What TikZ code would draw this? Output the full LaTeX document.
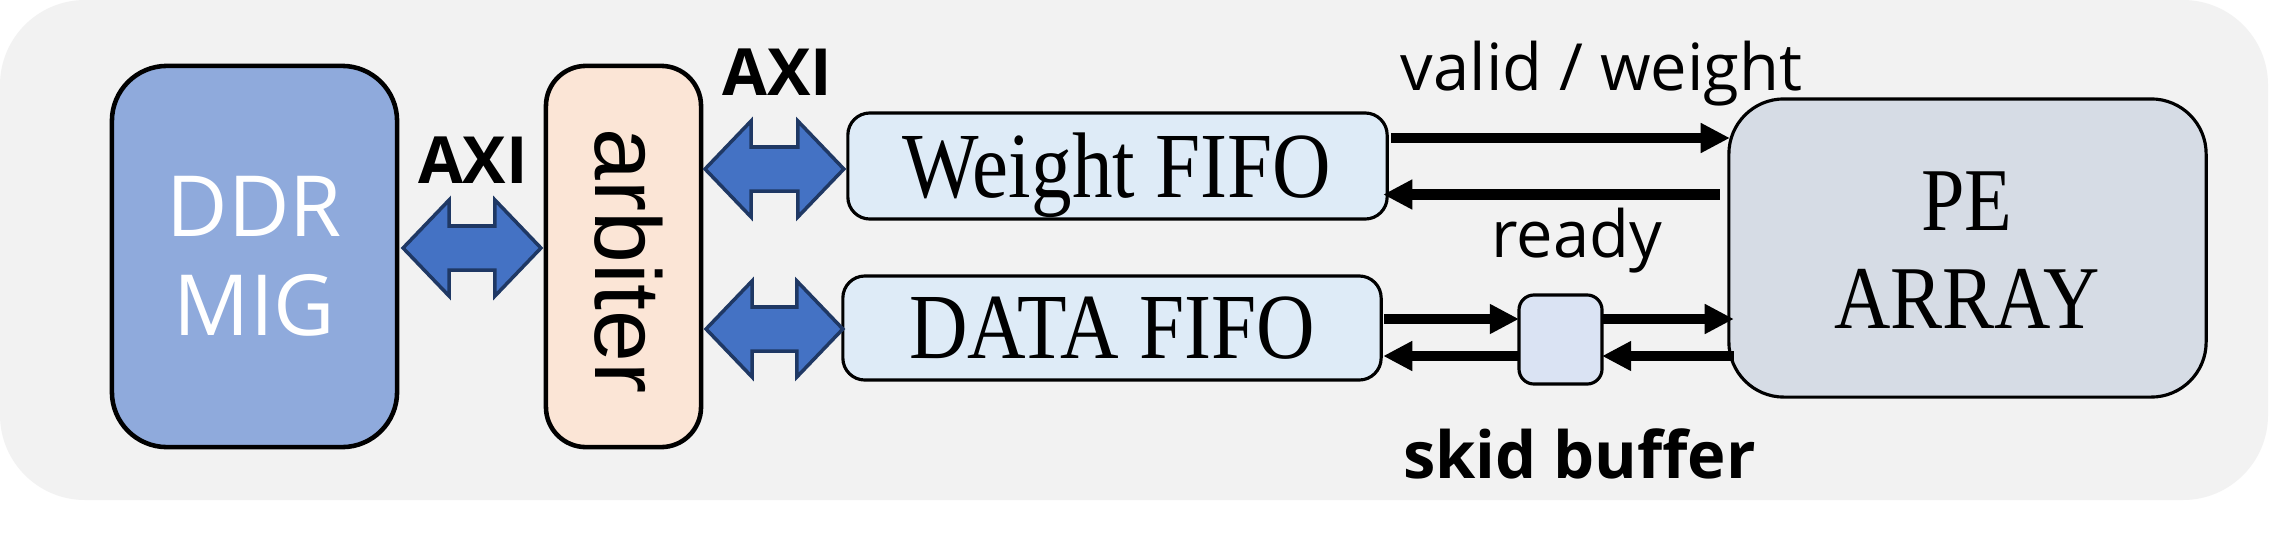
\documentclass[tikz,border=0pt]{standalone}
\usepackage{fontspec}
\setmainfont{Liberation Serif}
\newfontfamily\osans{Open Sans}
\newfontfamily\lsans{Liberation Sans}
\usetikzlibrary{arrows.meta,calc}
\definecolor{bgc}{HTML}{F2F2F2}
\definecolor{ddrc}{HTML}{8FAADC}
\definecolor{arbc}{HTML}{FBE5D6}
\definecolor{fifoc}{HTML}{DEEBF7}
\definecolor{skidc}{HTML}{DAE3F3}
\definecolor{pec}{HTML}{D6DCE5}
\definecolor{barf}{HTML}{4472C4}
\definecolor{bard}{HTML}{1F3864}
\tikzset{
  blk/.style={draw=black, inner sep=0pt, outer sep=0pt},
  thickblk/.style={blk, line width=1.3pt},
  thinblk/.style={blk, line width=0.9pt},
  sig/.style={line width=2.85pt, -{Triangle[length=8.3pt,width=8pt]}},
  barrow/.style={fill=barf, draw=bard, line width=1pt, line join=miter},
  axil/.style={font={\osans\bfseries\fontsize{18.5}{22}\selectfont}, inner sep=0pt},
  lbl/.style={font={\osans\fontsize{18.5}{22}\selectfont}, inner sep=0pt, anchor=base},
  fifotxt/.style={font={\fontsize{26.5}{30}\selectfont}, inner sep=0pt, anchor=base},
}
\newcommand\blockarrow[2]{%
  \path[barrow] let \p1=#1, \p2=#2 in
  (\x1,\y1) -- (\x1+0.46cm,\y1+0.48cm) -- (\x1+0.46cm,\y1+0.22cm)
  -- (\x2-0.46cm,\y2+0.22cm) -- (\x2-0.46cm,\y2+0.48cm) -- (\x2,\y2)
  -- (\x2-0.46cm,\y2-0.48cm) -- (\x2-0.46cm,\y2-0.22cm)
  -- (\x1+0.46cm,\y1-0.22cm) -- (\x1+0.46cm,\y1-0.48cm) -- cycle;}
\begin{document}
\begin{tikzpicture}[x=0.01cm,y=-0.01cm]
\useasboundingbox (0,0) rectangle (2270,533);
\fill[white] (0,0) rectangle (2270,533);
\fill[bgc, rounded corners=0.85cm] (0,0) rectangle (2268,500);

% blocks
\node[thickblk, fill=ddrc, rounded corners=0.55cm, minimum width=2.85cm, minimum height=3.81cm,
      text=white, align=center, font={\osans\fontsize{24}{28.2}\selectfont}]
      (ddr) at (254.5,256.5) {DDR\\MIG};
\node[thickblk, fill=arbc, rounded corners=0.4cm, minimum width=1.55cm, minimum height=3.81cm]
      (arb) at (623.5,256.5) {};
\node[rotate=-90, inner sep=0pt, font={\lsans\fontsize{26.5}{30}\selectfont}]
      (arbtxt) at (629,261) {arbiter};
\node[thinblk, fill=fifoc, rounded corners=0.22cm, minimum width=5.39cm, minimum height=1.06cm]
      (wf) at (1117.5,166) {};
\node[fifotxt] (wftxt) at (1117,197) {\scalebox{0.87}[1]{Weight FIFO}};
\node[thinblk, fill=fifoc, rounded corners=0.22cm, minimum width=5.38cm, minimum height=1.04cm]
      (df) at (1112,328) {};
\node[fifotxt] (dftxt) at (1112,358) {\scalebox{0.87}[1]{DATA FIFO}};
\node[thinblk, fill=skidc, rounded corners=0.15cm, minimum width=0.83cm, minimum height=0.89cm]
      (skid) at (1560.5,339.5) {};
\node[thinblk, fill=pec, rounded corners=0.55cm, minimum width=4.77cm, minimum height=2.98cm]
      (pe) at (1967.5,248) {};
\node[fifotxt, font={\fontsize{25.5}{27.9}\selectfont}] (petxt1) at (1967,230) {\scalebox{0.87}[1]{PE}};
\node[fifotxt, font={\fontsize{25.5}{27.9}\selectfont}] (petxt2) at (1967,328) {\scalebox{0.87}[1]{ARRAY}};

% AXI block arrows
\blockarrow{($(ddr.east)+(6,-8.5)$)}{($(ddr.east -| arb.west)+(-5,-8.5)$)}
\blockarrow{($(arb.east |- wf.west)+(4,3)$)}{($(wf.west)+(-4,3)$)}
\blockarrow{($(arb.east |- df.west)+(5,1)$)}{($(df.west)+(0,1)$)}
\node[axil] (axi1) at (473,160.5) {AXI};
\node[axil] (axi2) at (777.5,72) {AXI};

% handshake signals
\draw[sig] ($(wf.east)+(4,-28)$) -- ($(wf.east -| pe.west)+(1,-28)$);
\draw[sig] ($(wf.east -| pe.west)+(-9,28.5)$) -- ($(wf.east)+(-4,28.5)$);
\draw[sig] ($(df.east)+(3,-9)$) -- ($(df.east -| skid.west)+(0,-9)$);
\draw[sig] ($(df.east -| skid.east)+(0,-9)$) -- ($(df.east -| pe.west)+(5,-9)$);
\draw[sig] ($(df.east -| pe.west)+(5,28)$) -- ($(df.east -| skid.east)+(0,28)$);
\draw[sig] ($(df.east -| skid.west)+(0,28)$) -- ($(df.east)+(2,28)$);

\node[lbl] (lvalid) at (1601.5,90) {valid / weight};
\node[lbl] (lready) at (1577,257) {ready};
\node[lbl, font={\osans\bfseries\fontsize{18.5}{22}\selectfont}] (lskid) at (1579.5,478) {skid buffer};
\end{tikzpicture}
\end{document}
